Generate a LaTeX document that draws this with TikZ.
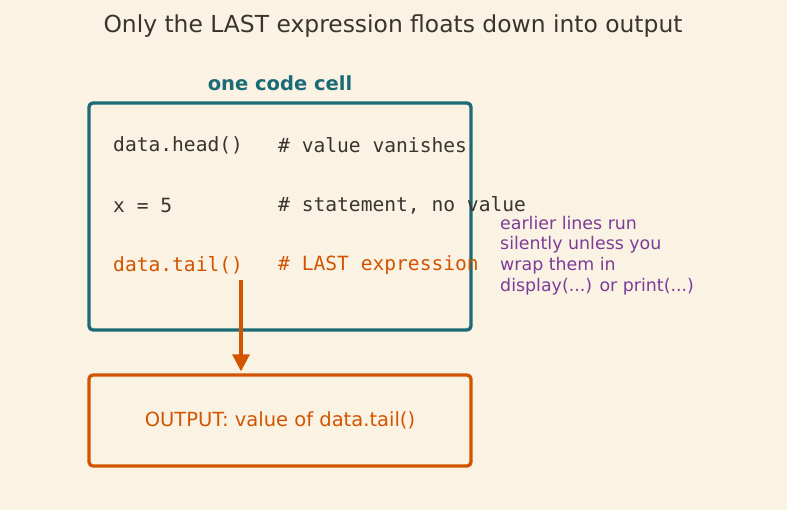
\documentclass[tikz,border=0pt]{standalone}
\usepackage{fontspec}
\setmainfont{DejaVu Sans}
\setmonofont{DejaVu Sans Mono}
\usetikzlibrary{positioning,arrows.meta}

\definecolor{bgcream}{HTML}{FAF3E3}
\definecolor{inkdark}{HTML}{3A332E}
\definecolor{cellteal}{HTML}{1B6B77}
\definecolor{outorange}{HTML}{D35400}
\definecolor{notepurple}{HTML}{7D3C98}

\begin{document}
\begin{tikzpicture}[x=1pt, y=-1pt,
  cellbox/.style={draw, line width=3.3pt, rounded corners=4pt, inner sep=0pt},
  codeline/.style={font=\ttfamily\fontsize{19.6}{19.6}\selectfont, anchor=west, inner sep=0pt, text=inkdark}]
  \fill[bgcream] (0,0) rectangle (787,510);
  \useasboundingbox (0,0) rectangle (787,510);

  \node (title) at (393,26.5) [text=inkdark, font=\fontsize{23.4}{23.4}\selectfont]
    {Only the LAST expression floats down into output};
  \node (celllabel) at (280,83) [text=cellteal, font=\bfseries\fontsize{19.5}{19.5}\selectfont]
    {one code cell};

  \node (cell) at (280,216.5) [cellbox, draw=cellteal, minimum width=382pt, minimum height=227pt] {};
  \node (output) at (280,420.5) [cellbox, draw=outorange, minimum width=382pt, minimum height=91pt,
             text=outorange, font=\fontsize{19.5}{19.5}\selectfont]
    {OUTPUT: value of data.tail()};

  % code lines
  \node (head) at (113,145) [codeline] {data.head()};
  \node (headnote) at (278,145) [codeline] {\# value vanishes};
  \node (assign) at (113,205) [codeline] {x = 5};
  \node (assignnote) at (278,205) [codeline] {\# statement, no value};
  \node (tail) at (113,265) [codeline, text=outorange] {data.tail()};
  \node (tailnote) at (278,265) [codeline, text=outorange] {\# LAST expression};

  \node (note) at (500,255.5) [anchor=west, align=left, inner sep=0pt, text=notepurple,
             font=\fontsize{17.4}{20.7}\selectfont]
    {earlier lines run\\silently unless you\\wrap them in\\display(...) or print(...)};

  \coordinate (arrowtop) at (241,280);
  \draw[-{Triangle[length=17pt,width=17pt]}, outorange, line width=3.3pt, shorten >=2pt]
    (arrowtop) -- (arrowtop |- output.north);
\end{tikzpicture}
\end{document}
